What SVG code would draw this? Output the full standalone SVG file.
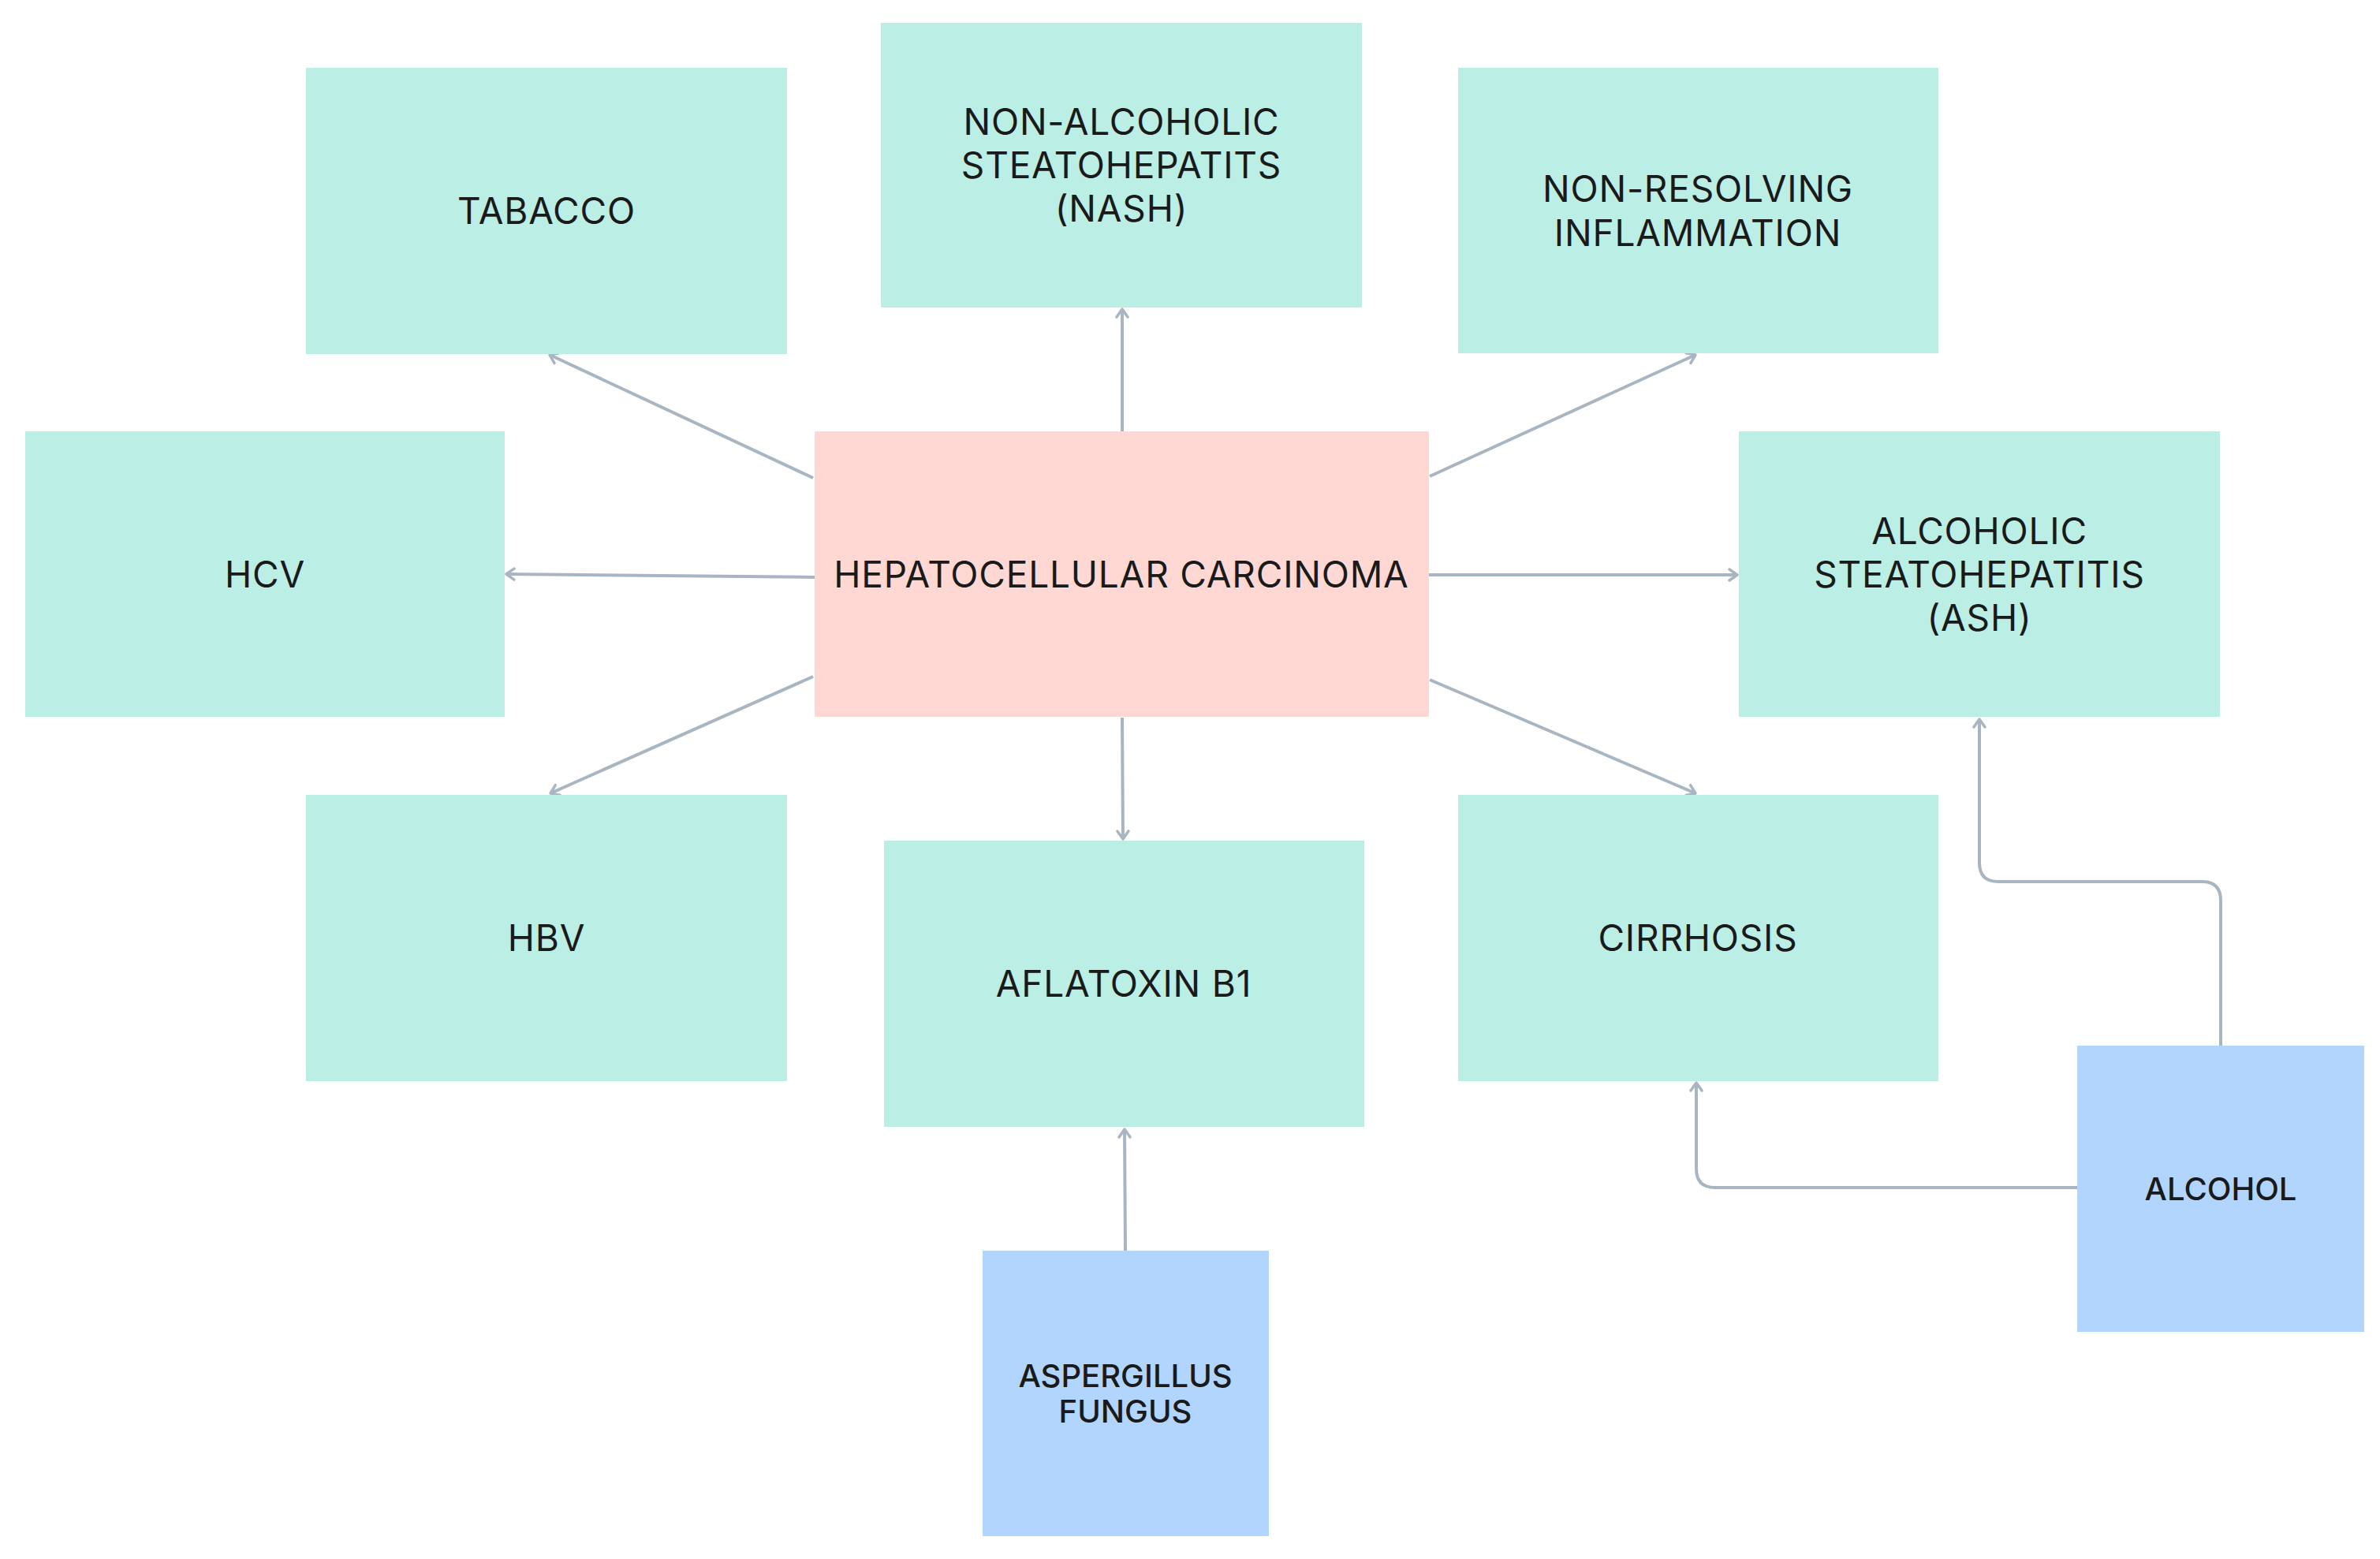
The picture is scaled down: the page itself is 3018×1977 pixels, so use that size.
<svg xmlns="http://www.w3.org/2000/svg" width="3018" height="1977" viewBox="0 0 3018 1977">
<style>
.t{fill:#BBEEE5}
.p{fill:#FFD8D4}
.b{fill:#B1D5FD}
text{font-family:Inter,"Noto Sans","Liberation Sans",sans-serif;fill:#1A1A1A;text-anchor:middle}
.m{font-size:46px;letter-spacing:0.8px}
.s{font-size:40px;font-weight:500}
.c{fill:none;stroke:#A9B6C1;stroke-width:4;marker-end:url(#ah)}
</style>
<defs>
<marker id="ah" viewBox="-14 -10 16 20" markerWidth="16" markerHeight="20" refX="0" refY="0" orient="auto" markerUnits="userSpaceOnUse">
<path d="M-10,-7 L0,0 L-10,7" fill="none" stroke="#A9B6C1" stroke-width="3.5" stroke-linecap="round" stroke-linejoin="round"/>
</marker>
</defs>
<rect width="3018" height="1977" fill="#FFFFFF"/>
<g id="connectors">
<line class="c" x1="1031" y1="606" x2="697" y2="450"/>
<line class="c" x1="1423" y1="547" x2="1423" y2="392"/>
<line class="c" x1="1813" y1="604" x2="2150" y2="450"/>
<line class="c" x1="1033" y1="732" x2="642" y2="728"/>
<line class="c" x1="1812" y1="729" x2="2203" y2="729"/>
<line class="c" x1="1031" y1="858" x2="698" y2="1006"/>
<line class="c" x1="1423" y1="910" x2="1424" y2="1064"/>
<line class="c" x1="1813" y1="862" x2="2150" y2="1006"/>
<line class="c" x1="1427" y1="1586" x2="1426" y2="1432"/>
<path class="c" d="M2816,1326 V1142 Q2816,1118 2792,1118 H2534 Q2510,1118 2510,1094 V912"/>
<path class="c" d="M2634,1506 H2175 Q2151,1506 2151,1482 V1373"/>
</g>
<g id="tabacco"><rect class="t" x="388" y="86" width="610" height="363"/><text class="m" x="693" y="284">TABACCO</text></g>
<g id="nash"><rect class="t" x="1117" y="29" width="610" height="361"/><text class="m" x="1422"><tspan x="1422" y="171">NON-ALCOHOLIC</tspan><tspan x="1422" y="226">STEATOHEPATITS</tspan><tspan x="1422" y="281">(NASH)</tspan></text></g>
<g id="nonresolving"><rect class="t" x="1849" y="86" width="609" height="362"/><text class="m" x="2153"><tspan x="2153" y="256">NON-RESOLVING</tspan><tspan x="2153" y="312">INFLAMMATION</tspan></text></g>
<g id="hcv"><rect class="t" x="32" y="547" width="608" height="362"/><text class="m" x="336" y="745">HCV</text></g>
<g id="hcc"><rect class="p" x="1033" y="547" width="779" height="362"/><text class="m" x="1422" y="745">HEPATOCELLULAR CARCINOMA</text></g>
<g id="ash"><rect class="t" x="2205" y="547" width="610" height="362"/><text class="m" x="2510"><tspan x="2510" y="690">ALCOHOLIC</tspan><tspan x="2510" y="745">STEATOHEPATITIS</tspan><tspan x="2510" y="800">(ASH)</tspan></text></g>
<g id="hbv"><rect class="t" x="388" y="1008" width="610" height="363"/><text class="m" x="693" y="1206">HBV</text></g>
<g id="aflatoxin"><rect class="t" x="1121" y="1066" width="609" height="363"/><text class="m" x="1425" y="1264">AFLATOXIN B1</text></g>
<g id="cirrhosis"><rect class="t" x="1849" y="1008" width="609" height="363"/><text class="m" x="2153" y="1206">CIRRHOSIS</text></g>
<g id="aspergillus"><rect class="b" x="1246" y="1586" width="363" height="362"/><text class="s" x="1427"><tspan x="1427" y="1759">ASPERGILLUS</tspan><tspan x="1427" y="1804">FUNGUS</tspan></text></g>
<g id="alcohol"><rect class="b" x="2634" y="1326" width="364" height="363"/><text class="s" x="2816" y="1522">ALCOHOL</text></g>
</svg>
